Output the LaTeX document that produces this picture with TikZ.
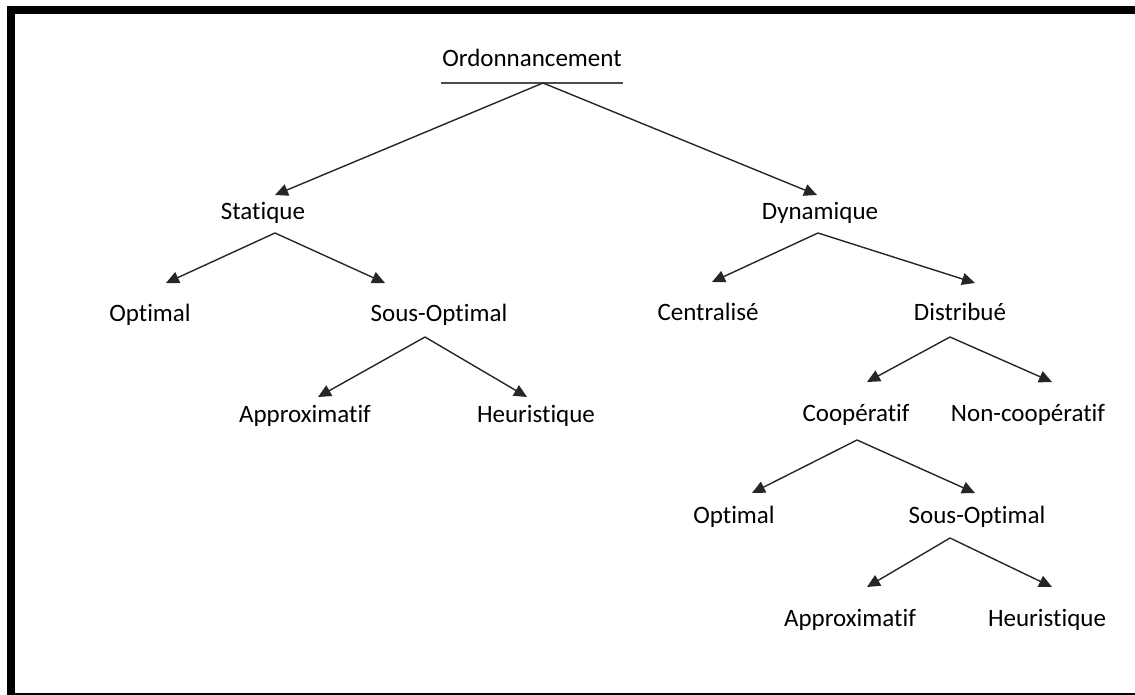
\documentclass[tikz,border=0pt]{standalone}
\usepackage{fontspec}
\setmainfont[Ligatures=NoCommon]{Carlito}
\usetikzlibrary{arrows.meta}
\begin{document}
\begin{tikzpicture}[x=1pt,y=-1pt,
  lbl/.style={anchor=base,inner sep=0pt,font=\fontsize{25}{30}\selectfont},
  arr/.style={line width=1.4pt,draw=black!85,-{Triangle[length=13pt,width=12pt]}},
  rule/.style={line width=1.6pt,draw=black!70}]
  \useasboundingbox (0,0) rectangle (1135,695);
  % frame: heavy top and left edges, thin bottom edge
  \fill[black] (7,6) rectangle (1135,14);
  \fill[black] (7,6) rectangle (15,695);
  \draw[line width=1.5pt] (7,694) -- (1135,694);

  % labels
  \node[lbl] (ord)  at (532,67)  {Ordonnancement};
  \node[lbl] (stat) at (263,220) {Statique};
  \node[lbl] (dyn)  at (820,220) {Dynamique};
  \node[lbl] (opt1) at (150,321) {Optimal};
  \node[lbl] (sub1) at (439,321) {Sous-Optimal};
  \node[lbl] (cen)  at (708,320) {Centralisé};
  \node[lbl] (dis)  at (960,320) {Distribué};
  \node[lbl] (app1) at (305,422) {Approximatif};
  \node[lbl] (heu1) at (536,422) {Heuristique};
  \node[lbl] (coop) at (856,421) {Coopératif};
  \node[lbl] (ncoop) at (1028,421) {Non-coopératif};
  \node[lbl] (opt2) at (734,523) {Optimal};
  \node[lbl] (sub2) at (977,523) {Sous-Optimal};
  \node[lbl] (app2) at (850,626) {Approximatif};
  \node[lbl] (heu2) at (1047,626) {Heuristique};

  % underline of the root label
  \coordinate (ord-l) at (441,83);
  \coordinate (ord-r) at (623,83);
  \draw[rule] (ord-l) -- (ord-r);

  % fork points below each parent
  \coordinate (ord-f)  at (543,83);
  \coordinate (stat-f) at (275,233);
  \coordinate (dyn-f)  at (818,233);
  \coordinate (sub1-f) at (425,337);
  \coordinate (dis-f)  at (950,337);
  \coordinate (coop-f) at (857,440);
  \coordinate (sub2-f) at (950,538);

  % arrow ends above each child
  \coordinate (stat-i) at (275,195);
  \coordinate (dyn-i)  at (817,195);
  \coordinate (opt1-i) at (166,283);
  \coordinate (sub1-i) at (385,283);
  \coordinate (cen-i)  at (712,282);
  \coordinate (dis-i)  at (975,283);
  \coordinate (app1-i) at (318,397);
  \coordinate (heu1-i) at (527,397);
  \coordinate (coop-i) at (867,382);
  \coordinate (ncoop-i) at (1052,382);
  \coordinate (opt2-i) at (752,493);
  \coordinate (sub2-i) at (975,493);
  \coordinate (app2-i) at (867,587);
  \coordinate (heu2-i) at (1052,587);

  % connectors
  \draw[arr] (ord-f)  -- (stat-i);
  \draw[arr] (ord-f)  -- (dyn-i);
  \draw[arr] (stat-f) -- (opt1-i);
  \draw[arr] (stat-f) -- (sub1-i);
  \draw[arr] (dyn-f)  -- (cen-i);
  \draw[arr] (dyn-f)  -- (dis-i);
  \draw[arr] (sub1-f) -- (app1-i);
  \draw[arr] (sub1-f) -- (heu1-i);
  \draw[arr] (dis-f)  -- (coop-i);
  \draw[arr] (dis-f)  -- (ncoop-i);
  \draw[arr] (coop-f) -- (opt2-i);
  \draw[arr] (coop-f) -- (sub2-i);
  \draw[arr] (sub2-f) -- (app2-i);
  \draw[arr] (sub2-f) -- (heu2-i);
\end{tikzpicture}
\end{document}
